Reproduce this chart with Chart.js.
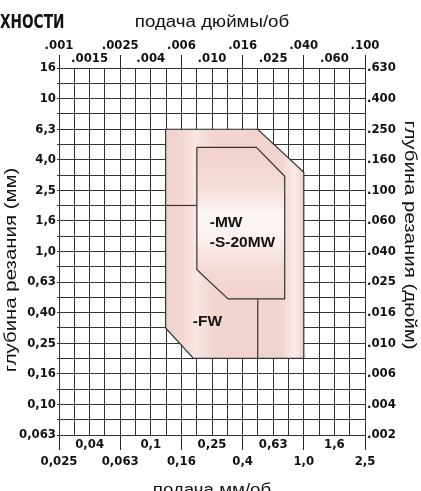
<!DOCTYPE html>
<html><head><meta charset="utf-8">
<script src="https://cdn.jsdelivr.net/npm/chart.js@4/dist/chart.umd.min.js"></script>
<style>html,body{margin:0;padding:0;background:#fff}#wrap{width:421px;height:491px;position:relative;overflow:hidden}</style>
</head><body><div id="wrap"><canvas id="c" width="421" height="491"></canvas></div>
<script>
// ---- axis tick labels ----
const feedMmLabels = ['0,025','0,04','0,063','0,1','0,16','0,25','0,4','0,63','1,0','1,6','2,5'];
const feedInchLabels = ['.001','.0015','.0025','.004','.006','.010','.016','.025','.040','.060','.100'];
const depthMmLabels = ['0,063','0,10','0,16','0,25','0,40','0,63','1,0','1,6','2,5','4,0','6,3','10','16'];
const depthInchLabels = ['.002','.004','.006','.010','.016','.025','.040','.060','.100','.160','.250','.400','.630'];

// ---- application regions: [feed mm/rev, depth of cut mm] ----
const outerRegion = [[0.125,6.3],[0.5,6.3],[1.0,3.3],[1.0,0.2],[0.19,0.2],[0.125,0.316],[0.125,6.3]];
const mwRegion = [[0.2,4.8],[0.49,4.8],[0.75,3.1],[0.75,0.49],[0.32,0.49],[0.2,0.76],[0.2,4.8]];
const fwDivider = [[0.125,2.0],[0.2,2.0]];
const splitDivider = [[0.5,0.49],[0.5,0.2]];
const regionLabels = ['-MW','-S-20MW','-FW'];
const regionLabelAt = [[0.243,1.54],[0.243,1.14],[0.188,0.35]];

const NARROW = "'Liberation Sans Narrow','DejaVu Sans Condensed','Liberation Sans',sans-serif";
const SANS = "'Liberation Sans',Arial,sans-serif";
const GRID = '#333333';
const INK = '#111';

function decadeTicks(lo, n){ const a=[]; for(let k=0;k<=n;k++) a.push({value: Math.pow(10, lo + k/10)}); return a; }
const toXY = arr => arr.map(([x,y]) => ({x, y}));

function outerFill(context){
  const chart = context.chart; const xs = chart.scales.x;
  if(!chart.chartArea || !xs) return '#f2d5cf';
  const x0 = xs.getPixelForValue(0.125), x1 = xs.getPixelForValue(1.0);
  const g = chart.ctx.createLinearGradient(x0, 0, x1, 0);
  g.addColorStop(0, '#f1d2cc');
  g.addColorStop(0.12, '#f3d8d2');
  g.addColorStop(0.22, '#f8e7e3');
  g.addColorStop(0.35, '#f2d5cf');
  g.addColorStop(0.84, '#f2d4ce');
  g.addColorStop(0.93, '#faeeeb');
  g.addColorStop(1, '#ecd2cd');
  return g;
}
function mwFill(context){
  const chart = context.chart; const ys = chart.scales.y;
  if(!chart.chartArea || !ys) return '#f2d5cf';
  const y0 = ys.getPixelForValue(4.8), y1 = ys.getPixelForValue(0.49);
  const g = chart.ctx.createLinearGradient(0, y0, 0, y1);
  g.addColorStop(0, '#f1d2cc');
  g.addColorStop(0.25, '#f5ddd8');
  g.addColorStop(0.45, '#fdf7f6');
  g.addColorStop(0.6, '#fbf1ef');
  g.addColorStop(0.8, '#f4dad5');
  g.addColorStop(1, '#f1d3cd');
  return g;
}

function stretchedText(ctx, text, x, y, angle, stretch){
  ctx.save(); ctx.translate(x, y); ctx.rotate(angle); ctx.scale(stretch, 1); ctx.fillText(text, 0, 0); ctx.restore();
}

const textPlugin = {
  id: 'texts',
  afterDatasetsDraw(chart){
    const ctx = chart.ctx, xs = chart.scales.x, ys = chart.scales.y;
    ctx.save();
    ctx.fillStyle = INK;
    ctx.font = 'bold 15.5px ' + SANS;
    ctx.textAlign = 'left'; ctx.textBaseline = 'middle';
    regionLabels.forEach((t,i) => ctx.fillText(t, xs.getPixelForValue(regionLabelAt[i][0]), ys.getPixelForValue(regionLabelAt[i][1])));
    ctx.restore();
  },
  afterDraw(chart){
    const ctx = chart.ctx;
    ctx.save();
    ctx.fillStyle = INK;
    ctx.textBaseline = 'alphabetic';
    ctx.font = 'bold 19px ' + NARROW;
    ctx.textAlign = 'left';
    stretchedText(ctx, 'ХНОСТИ', 0, 28, 0, 0.8);
    ctx.textAlign = 'center';
    ctx.font = '16px ' + SANS;
    stretchedText(ctx, 'подача дюймы/об', 212, 27, 0, 1.17);
    stretchedText(ctx, 'подача мм/об', 212, 495, 0, 1.17);
    ctx.font = '17px ' + SANS;
    stretchedText(ctx, 'глубина резания (мм)', 16, 270, -Math.PI/2, 1.2);
    stretchedText(ctx, 'глубина резания (дюйм)', 405, 235, Math.PI/2, 1.2);
    ctx.restore();
  }
};

const tickFont = (lh) => ({family: NARROW, size: 13, weight: 'bold', lineHeight: lh});
const majorTick = c => (c.index % 4 === 0 ? '#222' : 'rgba(0,0,0,0)');

new Chart(document.getElementById('c'), {
  type: 'scatter',
  data: { datasets: [
    { data: toXY(outerRegion), showLine: true, fill: 'shape', backgroundColor: outerFill, borderColor: '#333', borderWidth: 1.2, pointRadius: 0, order: 4 },
    { data: toXY(fwDivider), showLine: true, fill: false, borderColor: '#333', borderWidth: 1.2, pointRadius: 0, order: 3 },
    { data: toXY(splitDivider), showLine: true, fill: false, borderColor: '#333', borderWidth: 1.2, pointRadius: 0, order: 2 },
    { data: toXY(mwRegion), showLine: true, fill: 'shape', backgroundColor: mwFill, borderColor: '#333', borderWidth: 1.2, pointRadius: 0, order: 1 }
  ]},
  options: {
    responsive: false, animation: false, devicePixelRatio: 1,
    layout: { padding: 0 },
    plugins: { legend: {display: false}, tooltip: {enabled: false}, title: {display: false} },
    events: [],
    scales: {
      x: {
        type: 'logarithmic', position: 'bottom', min: Math.pow(10,-1.6), max: Math.pow(10,0.4),
        afterBuildTicks: s => { s.ticks = decadeTicks(-1.6, 20); },
        afterFit: s => { s.height = 56; },
        grid: { color: GRID, lineWidth: 1, tickLength: 15, tickColor: majorTick },
        border: { display: true, color: GRID },
        ticks: { autoSkip: false, maxRotation: 0, minRotation: 0, padding: -13.5, color: INK, font: tickFont(1.31),
          callback: (v, i) => { if (i % 2) return ''; const j = i/2; const t = feedMmLabels[j]; return j % 2 ? [t, ''] : ['', t]; } }
      },
      x2: {
        type: 'logarithmic', position: 'top', min: Math.pow(10,-1.6), max: Math.pow(10,0.4),
        afterBuildTicks: s => { s.ticks = decadeTicks(-1.6, 20); },
        afterFit: s => { s.height = 68; },
        grid: { drawOnChartArea: false, tickLength: 13, tickColor: majorTick },
        border: { display: true, color: GRID },
        ticks: { autoSkip: false, maxRotation: 0, minRotation: 0, padding: -10, color: INK, font: tickFont(1.0),
          callback: (v, i) => { if (i % 2) return ''; const j = i/2; const t = feedInchLabels[j]; return j % 2 ? ['', t] : [t, '']; } }
      },
      y: {
        type: 'logarithmic', position: 'left', min: Math.pow(10,-1.2), max: Math.pow(10,1.2),
        afterBuildTicks: s => { s.ticks = decadeTicks(-1.2, 24); },
        afterFit: s => { s.width = 59; },
        grid: { color: GRID, lineWidth: 1, tickLength: 2, tickColor: GRID },
        border: { display: true, color: GRID },
        ticks: { autoSkip: false, padding: 1, color: INK, font: tickFont(1.2),
          callback: (v, i) => (i % 2 ? '' : depthMmLabels[i/2]) }
      },
      y2: {
        type: 'logarithmic', position: 'right', min: Math.pow(10,-1.2), max: Math.pow(10,1.2),
        afterBuildTicks: s => { s.ticks = decadeTicks(-1.2, 24); },
        afterFit: s => { s.width = 56; },
        grid: { drawOnChartArea: false, drawTicks: false },
        border: { display: true, color: GRID },
        ticks: { autoSkip: false, padding: 2, color: INK, font: tickFont(1.2),
          callback: (v, i) => (i % 2 ? '' : depthInchLabels[i/2]) }
      }
    }
  },
  plugins: [textPlugin]
});
</script></body></html>
